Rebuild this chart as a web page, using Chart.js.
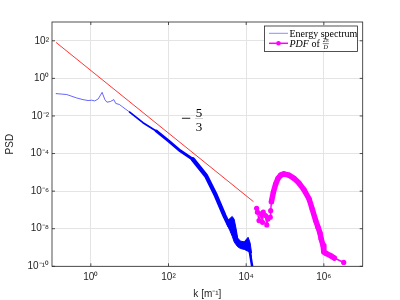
<!DOCTYPE html>
<html>
<head>
<meta charset="utf-8">
<title>PSD</title>
<script src="https://cdn.jsdelivr.net/npm/chart.js@4.4.1/dist/chart.umd.min.js"></script>
<style>
	html, body { margin: 0; padding: 0; background: #fff; }
	#wrap { width: 400px; height: 300px; }
</style>
</head>
<body>
<div id="wrap"><canvas id="psdChart" width="400" height="300"></canvas></div>
<script>
// Energy spectrum
var specK = [0.126, 0.24, 0.43, 0.63, 0.85, 1.05, 1.26, 1.55, 1.95, 2.3, 2.6, 3.2, 3.9, 4.4, 5.4, 6.2,
	10, 22, 48, 100, 200, 420, 930, 1660, 2750, 3630, 4470, 6000, 8900, 12000, 14500];
var specPsd = [0.155, 0.138, 0.091, 0.074, 0.066, 0.069, 0.063, 0.081, 0.18, 0.074, 0.054, 0.059, 0.074, 0.046, 0.041, 0.033,
	0.016, 4.4e-3, 1.6e-3, 4.7e-4, 1.4e-4, 5.0e-5, 6.5e-6, 5.8e-7, 5.0e-8, 1.5e-8, 2.5e-8, 1.9e-9, 1.07e-9, 8.7e-10, 8e-11];

// noisy band of the spectrum near k ~ 5e3 (upper / lower edge)
var bandK = [3160, 3800, 4370, 4900, 5500, 6030, 7080, 8910, 11200, 12600, 13800];
var bandHigh = [2.5e-8, 3.5e-8, 4.5e-8, 3.2e-8, 1.0e-8, 3.2e-9, 2.2e-9, 2.0e-9, 3.5e-9, 1.8e-9, 5e-10];
var bandLow = [1.8e-8, 7.9e-9, 4.0e-9, 2.0e-9, 1.4e-9, 1.1e-9, 8.9e-10, 7.9e-10, 6.3e-10, 5.0e-10, 3.2e-10];

// -5/3 reference line (end points)
var slopeK = [0.127, 15400];
var slopePsd = [82, 2.75e-7];

// PDF of 2pi/D
var pdfK = [18600, 19500, 21400, 24000, 26300, 27500, 31600, 33900, 36300, 41700, 42700, 44700,
	50100, 57500, 66100, 77600, 93300, 126000, 170000, 229000, 309000, 417000, 501000, 617000,
	708000, 794000, 851000, 955000, 1.0e6, 1.17e6, 1.55e6, 1.86e6, 3.24e6];
var pdfVal = [1.23e-7, 7.6e-8, 2.7e-8, 6.2e-8, 2.2e-8, 7.6e-8, 5.0e-8, 1.6e-8, 3.3e-8, 4.1e-8, 9.1e-8, 2.75e-7,
	8.7e-7, 2.4e-6, 4.8e-6, 7.1e-6, 8.3e-6, 7.1e-6, 4.8e-6, 2.7e-6, 1.17e-6, 3.8e-7, 1.12e-7, 2.7e-8,
	1.2e-8, 6.0e-9, 2.95e-9, 1.29e-9, 5.8e-10, 4.7e-10, 3.5e-10, 2.75e-10, 1.6e-10];

var xTicks = [1, 1e2, 1e4, 1e6];
var yTicks = [1e-10, 1e-8, 1e-6, 1e-4, 1e-2, 1, 1e2];

var axisColor = '#262626';
var gridColor = '#e4e4e4';
var sansFont = 'Liberation Sans';
var serifFont = 'Liberation Serif';

function pairs(xs, ys) {
	var out = [];
	for(var i = 0; i < xs.length; i++) {
		out.push({x: xs[i], y: ys[i]});
	}
	return out;
}

function powLabel(v) {
	var sup = {'0':'\u2070','1':'\u00b9','2':'\u00b2','3':'\u00b3','4':'\u2074','5':'\u2075',
		'6':'\u2076','7':'\u2077','8':'\u2078','9':'\u2079','-':'\u207b'};
	var e = String(Math.round(Math.log10(v)));
	var s = '';
	for(var i = 0; i < e.length; i++) {
		s += sup[e[i]];
	}
	return '10' + s;
}

// line thickness of the spectrum grows where the data gets noisy
function spectrumWidth(k) {
	if(k < 8) return 1;
	if(k < 30) return 1.8;
	if(k < 300) return 2.9;
	if(k < 3000) return 4.3;
	return 2.5;
}

var axesBox = {
	id: 'axesBox',
	afterDraw: function(chart) {
		var ctx = chart.ctx;
		var a = chart.chartArea;
		var sx = chart.scales.x;
		var sy = chart.scales.y;
		ctx.save();
		ctx.strokeStyle = axisColor;
		ctx.lineWidth = 0.8;
		ctx.beginPath();
		xTicks.forEach(function(v) {
			var px = sx.getPixelForValue(v);
			ctx.moveTo(px, a.bottom); ctx.lineTo(px, a.bottom - 3);
			ctx.moveTo(px, a.top); ctx.lineTo(px, a.top + 3);
		});
		yTicks.forEach(function(v) {
			var py = sy.getPixelForValue(v);
			ctx.moveTo(a.left, py); ctx.lineTo(a.left + 3, py);
			ctx.moveTo(a.right, py); ctx.lineTo(a.right - 3, py);
		});
		ctx.stroke();
		ctx.strokeRect(a.left, a.top, a.right - a.left, a.bottom - a.top);

		// slope annotation
		ctx.fillStyle = '#000';
		ctx.textAlign = 'center';
		ctx.textBaseline = 'alphabetic';
		ctx.font = '18px "' + serifFont + '"';
		ctx.fillText('\u2212', 186, 124);
		ctx.font = '13px "' + serifFont + '"';
		ctx.fillText('5', 199, 116.5);
		ctx.fillText('3', 199, 131);
		ctx.lineWidth = 0.5;
		ctx.strokeStyle = 'rgba(0,0,0,0.35)';
		ctx.beginPath();
		ctx.moveTo(195, 118.5); ctx.lineTo(203, 118.5);
		ctx.stroke();

		// legend
		var lx = 264.5, ly = 26, lw = 93, lh = 25.5;
		ctx.fillStyle = '#fff';
		ctx.fillRect(lx, ly, lw, lh);
		ctx.strokeStyle = axisColor;
		ctx.lineWidth = 0.8;
		ctx.strokeRect(lx, ly, lw, lh);

		ctx.lineWidth = 1;
		ctx.strokeStyle = 'rgba(0,0,255,0.45)';
		ctx.beginPath();
		ctx.moveTo(269, 33.3); ctx.lineTo(288, 33.3);
		ctx.stroke();
		ctx.strokeStyle = '#ff00ff';
		ctx.lineWidth = 1.5;
		ctx.beginPath();
		ctx.moveTo(269, 43.3); ctx.lineTo(288, 43.3);
		ctx.stroke();
		ctx.fillStyle = '#ff00ff';
		ctx.beginPath();
		ctx.arc(278.5, 43.3, 2.3, 0, Math.PI * 2);
		ctx.fill();

		ctx.fillStyle = '#000';
		ctx.textAlign = 'left';
		ctx.font = '10px "' + serifFont + '"';
		ctx.fillText('Energy spectrum', 289.5, 36.6);
		ctx.font = 'italic 10px "' + serifFont + '"';
		ctx.fillText('PDF', 289.5, 46.6);
		var w = ctx.measureText('PDF').width;
		ctx.font = '10px "' + serifFont + '"';
		ctx.fillText(' of', 289.5 + w, 46.6);
		w += ctx.measureText(' of').width + 2;
		ctx.textAlign = 'center';
		ctx.font = '6px "' + serifFont + '"';
		ctx.fillText('2\u03c0', 289.5 + w + 4, 42.2);
		ctx.font = 'italic 6px "' + serifFont + '"';
		ctx.fillText('D', 289.5 + w + 4, 48.6);
		ctx.lineWidth = 0.5;
		ctx.strokeStyle = '#000';
		ctx.beginPath();
		ctx.moveTo(289.5 + w + 1, 43.6); ctx.lineTo(289.5 + w + 7, 43.6);
		ctx.stroke();
		ctx.restore();
	}
};

var config = {
	type: 'line',
	data: {
		datasets: [
			{
				label: 'PDF of 2\u03c0/D',
				data: pairs(pdfK, pdfVal),
				borderColor: '#ff00ff',
				backgroundColor: '#ff00ff',
				borderWidth: 1.5,
				pointRadius: 2.6,
				pointBorderWidth: 0,
				pointBackgroundColor: '#ff00ff',
				borderJoinStyle: 'round',
				borderCapStyle: 'round',
				segment: {
					borderWidth: function(c) {
						var k = c.p0.parsed.x;
						return (k >= 44000 && k < 1.8e6) ? 5.5 : 1.5;
					}
				}
			},
			{
				label: 'Energy spectrum',
				data: pairs(specK, specPsd),
				borderColor: '#0000ff',
				borderWidth: 1,
				pointRadius: 0,
				borderJoinStyle: 'round',
				borderCapStyle: 'round',
				segment: {
					borderWidth: function(c) { return spectrumWidth(c.p0.parsed.x); },
					borderColor: function(c) { return c.p0.parsed.x < 8 ? 'rgba(0,0,255,0.6)' : '#0000ff'; }
				}
			},
			{
				label: 'band high',
				data: pairs(bandK, bandHigh),
				borderColor: '#0000ff',
				borderWidth: 1,
				pointRadius: 0
			},
			{
				label: 'band low',
				data: pairs(bandK, bandLow),
				borderColor: '#0000ff',
				backgroundColor: '#0000ff',
				borderWidth: 1,
				pointRadius: 0,
				fill: '-1'
			},
			{
				label: '-5/3',
				data: pairs(slopeK, slopePsd),
				borderColor: '#ff0000',
				borderWidth: 0.8,
				pointRadius: 0
			}
		]
	},
	options: {
		responsive: false,
		animation: false,
		devicePixelRatio: 1,
		layout: {
			padding: {top: 22, right: 37.3, left: 0, bottom: 0}
		},
		plugins: {
			legend: {display: false},
			tooltip: {enabled: false}
		},
		scales: {
			x: {
				type: 'logarithmic',
				min: 0.1,
				max: 1e7,
				afterBuildTicks: function(scale) {
					scale.ticks = xTicks.map(function(v) { return {value: v}; });
				},
				afterFit: function(scale) {
					scale.height = 33.7;
				},
				grid: {color: gridColor, drawTicks: false},
				border: {display: false},
				ticks: {
					autoSkip: false,
					maxRotation: 0,
					padding: 5,
					color: axisColor,
					font: {family: sansFont, size: 10},
					callback: function(v) { return powLabel(v); }
				},
				title: {
					display: true,
					text: 'k [m\u207b\u00b9]',
					color: axisColor,
					font: {family: sansFont, size: 10},
					padding: {top: 0, bottom: 0}
				}
			},
			y: {
				type: 'logarithmic',
				min: 1e-10,
				max: 1e3,
				afterBuildTicks: function(scale) {
					scale.ticks = yTicks.map(function(v) { return {value: v}; });
				},
				afterFit: function(scale) {
					scale.width = 52;
				},
				grid: {color: gridColor, drawTicks: false},
				border: {display: false},
				ticks: {
					autoSkip: false,
					padding: 3,
					color: axisColor,
					font: {family: sansFont, size: 10},
					callback: function(v) { return powLabel(v); }
				},
				title: {
					display: true,
					text: 'PSD',
					color: axisColor,
					font: {family: sansFont, size: 10},
					padding: {top: 4, bottom: 0}
				}
			}
		}
	},
	plugins: [axesBox]
};

var chart = new Chart(document.getElementById('psdChart').getContext('2d'), config);
</script>
</body>
</html>
